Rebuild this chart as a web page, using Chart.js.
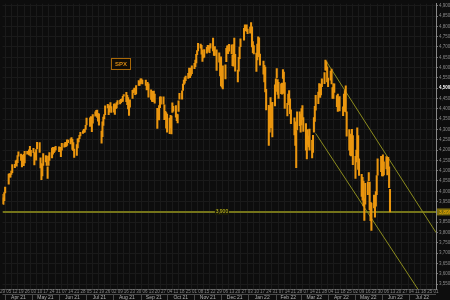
<!DOCTYPE html>
<html>
<head>
<meta charset="utf-8">
<script src="https://cdn.jsdelivr.net/npm/chart.js@4.4.1/dist/chart.umd.min.js"></script>
<style>
  html, body { margin: 0; padding: 0; background: #0d0d0d; }
  #wrap { width: 450px; height: 300px; position: relative; }
</style>
</head>
<body>
<div id="wrap"><canvas id="spx" width="450" height="300"></canvas></div>
<script>
// SPX daily [low, high], one array per month (trading days in order)
const mar21 = [[3940,3985],[3936,3968],[3955,3994]];
const apr21 = [[3992,4021],[4034,4084],[4068,4086],[4068,4083],[4082,4098],[4090,4129],[4114,4131],[4125,4148],[4122,4151],[4139,4173],[4170,4191],[4150,4180],[4118,4163],[4128,4175],[4124,4179],[4138,4194],[4180,4194],[4182,4193],[4176,4201],[4175,4218],[4170,4199]];
const may21 = [[4187,4209],[4128,4187],[4165,4187],[4151,4202],[4205,4238],[4188,4236],[4113,4162],[4056,4134],[4075,4131],[4126,4183],[4142,4173],[4125,4170],[4062,4119],[4126,4172],[4150,4188],[4162,4210],[4180,4213],[4187,4203],[4193,4213],[4201,4218]];
const jun21 = [[4192,4216],[4198,4213],[4168,4203],[4199,4233],[4214,4232],[4217,4237],[4218,4238],[4222,4250],[4236,4249],[4230,4255],[4240,4260],[4203,4252],[4197,4236],[4164,4205],[4174,4226],[4210,4255],[4240,4256],[4255,4272],[4269,4286],[4281,4293],[4285,4300],[4287,4302]];
const jul21 = [[4300,4320],[4322,4355],[4315,4356],[4340,4362],[4289,4346],[4331,4372],[4365,4386],[4367,4393],[4358,4394],[4340,4377],[4321,4376],[4233,4292],[4265,4337],[4320,4360],[4351,4372],[4372,4415],[4405,4422],[4372,4415],[4384,4415],[4404,4430],[4382,4411]];
const aug21 = [[4384,4423],[4373,4424],[4401,4418],[4404,4430],[4422,4440],[4424,4442],[4430,4446],[4436,4449],[4436,4461],[4462,4469],[4435,4480],[4420,4466],[4399,4455],[4368,4419],[4408,4444],[4450,4490],[4478,4492],[4486,4501],[4469,4498],[4472,4513],[4513,4537],[4513,4532]];
const sep21 = [[4522,4546],[4529,4545],[4521,4540],[4513,4540],[4492,4519],[4493,4529],[4457,4521],[4446,4492],[4436,4485],[4435,4482],[4448,4486],[4427,4472],[4305,4402],[4347,4394],[4346,4416],[4406,4458],[4423,4458],[4423,4458],[4347,4419],[4350,4388],[4306,4382]];
const oct21 = [[4287,4375],[4279,4355],[4307,4369],[4278,4365],[4382,4429],[4389,4412],[4360,4416],[4342,4375],[4332,4372],[4387,4439],[4447,4475],[4447,4487],[4489,4520],[4518,4540],[4524,4552],[4537,4559],[4548,4572],[4568,4598],[4551,4584],[4562,4598],[4570,4608]];
const nov21 = [[4595,4621],[4605,4636],[4623,4664],[4663,4683],[4681,4718],[4694,4714],[4665,4708],[4630,4685],[4647,4665],[4651,4688],[4670,4698],[4678,4708],[4688,4706],[4672,4707],[4694,4717],[4681,4743],[4659,4694],[4659,4702],[4586,4686],[4626,4672],[4560,4646]];
const dec21 = [[4511,4652],[4505,4595],[4496,4608],[4545,4613],[4629,4694],[4671,4706],[4667,4706],[4680,4713],[4666,4711],[4609,4660],[4607,4712],[4648,4743],[4583,4664],[4531,4588],[4583,4650],[4643,4699],[4701,4740],[4733,4791],[4783,4807],[4779,4804],[4776,4808],[4765,4787]];
const jan22 = [[4767,4797],[4780,4818],[4700,4798],[4672,4726],[4666,4707],[4582,4671],[4637,4714],[4712,4749],[4653,4744],[4612,4666],[4568,4632],[4531,4611],[4482,4603],[4395,4495],[4222,4417],[4287,4411],[4309,4454],[4309,4429],[4264,4432],[4414,4517]];
const feb22 = [[4484,4546],[4550,4595],[4470,4542],[4451,4529],[4474,4521],[4471,4525],[4547,4590],[4475,4578],[4402,4527],[4366,4427],[4430,4472],[4420,4489],[4377,4448],[4328,4395],[4273,4356],[4222,4337],[4114,4295],[4298,4385],[4318,4385]];
const mar22 = [[4287,4375],[4322,4401],[4348,4416],[4291,4358],[4199,4328],[4157,4276],[4227,4299],[4215,4268],[4200,4302],[4162,4247],[4188,4271],[4287,4358],[4339,4412],[4394,4465],[4425,4481],[4469,4522],[4455,4501],[4468,4520],[4507,4546],[4522,4576],[4588,4637],[4587,4628],[4530,4604]];
const apr22 = [[4507,4549],[4539,4583],[4521,4593],[4450,4503],[4450,4521],[4480,4521],[4411,4464],[4388,4471],[4395,4453],[4390,4460],[4367,4410],[4388,4471],[4452,4489],[4385,4512],[4267,4385],[4200,4299],[4175,4278],[4171,4240],[4188,4300],[4129,4270]];
const may22 = [[4062,4170],[4142,4200],[4168,4308],[4106,4270],[4077,4158],[3975,4082],[3957,4068],[3929,4050],[3859,3964],[3938,4039],[3984,4046],[4051,4091],[3911,4045],[3858,3946],[3810,3943],[3919,3982],[3875,3956],[3928,3999],[3984,4076],[4078,4158],[4095,4169]];
const jun22 = [[4075,4166],[4074,4177],[4080,4143],[4108,4168],[4080,4165],[4110,4165],[4017,4119],[3900,4010]];

const holidays = ['2021-04-02','2021-05-31','2021-07-05','2021-09-06','2021-11-25','2021-12-24','2022-01-17','2022-02-21','2022-04-15','2022-05-30'];
const monthLabels = ['Apr 21','May 21','Jun 21','Jul 21','Aug 21','Sep 21','Oct 21','Nov 21','Dec 21','Jan 22','Feb 22','Mar 22','Apr 22','May 22','Jun 22','Jul 22'];
const yTicks = [];
for (let v = 3550; v <= 4900; v += 50) yTicks.push(v);

const levelLine = 3900;
const levelLabel = '3,900';
const lastLabel = '3,899';
const upperTrend = [['2022-03-29', 4637], ['2022-08-01', 3800]];
const lowerTrend = [['2022-03-18', 4281], ['2022-07-20', 3470]];

const ORANGE = '#ea960f', OLIVE = '#74741a', TREND = '#8c8c1e', GRID = '#1a1a1a', TXT = '#8a8a8a';

const T0 = Date.UTC(2021, 2, 29);
const dayOf = (y, m, d) => Math.round((Date.UTC(y, m, d) - T0) / 864e5);
const dayOfStr = s => { const p = s.split('-').map(Number); return dayOf(p[0], p[1] - 1, p[2]); };
const X_MAX = dayOf(2022, 7, 1);

// trading days -> x positions
const months = [[2021,2,29,mar21],[2021,3,1,apr21],[2021,4,1,may21],[2021,5,1,jun21],[2021,6,1,jul21],[2021,7,1,aug21],[2021,8,1,sep21],[2021,9,1,oct21],[2021,10,1,nov21],[2021,11,1,dec21],[2022,0,1,jan22],[2022,1,1,feb22],[2022,2,1,mar22],[2022,3,1,apr22],[2022,4,1,may22],[2022,5,1,jun22]];
const bars = [];
months.forEach(([y, m, from, hl]) => {
  let i = 0;
  for (let d = from; d <= 31 && i < hl.length; d++) {
    const dt = new Date(Date.UTC(y, m, d));
    if (dt.getUTCMonth() !== m) break;
    const wd = dt.getUTCDay();
    const iso = dt.toISOString().slice(0, 10);
    if (wd === 0 || wd === 6 || holidays.includes(iso)) continue;
    bars.push({ x: dayOf(y, m, d), y: hl[i] });
    i++;
  }
});

const monthStarts = [], monthMids = [];
for (let k = 0; k <= 16; k++) {
  const y = 2021 + Math.floor((3 + k) / 12), m = (3 + k) % 12;
  monthStarts.push(dayOf(y, m, 1));
}
for (let k = 0; k < 16; k++) monthMids.push((monthStarts[k] + monthStarts[k + 1]) / 2);

const fmt = v => v.toLocaleString('en-US');
const isBold = c => !!(c && c.tick && c.tick.value === 4500);

const extras = {
  id: 'extras',
  beforeDraw(chart) {
    const c = chart.ctx;
    c.save();
    c.fillStyle = '#0d0d0d';
    c.fillRect(0, 0, chart.width, chart.height);
    c.restore();
  },
  afterDraw(chart) {
    const c = chart.ctx, xs = chart.scales.x, ys = chart.scales.y, a = chart.chartArea;
    c.save();
    // month separators in the bottom band
    c.strokeStyle = '#4a4a4a';
    c.lineWidth = 1;
    monthStarts.forEach(v => {
      const px = Math.round(xs.getPixelForValue(v)) + 0.5;
      if (px < a.left || px > a.right) return;
      c.beginPath(); c.moveTo(px, a.bottom + 5); c.lineTo(px, chart.height); c.stroke();
    });
    c.beginPath(); c.moveTo(a.left, a.bottom + 5.5); c.lineTo(a.right, a.bottom + 5.5); c.stroke();

    // level label in the middle of the line
    const ly = ys.getPixelForValue(levelLine);
    c.font = '5px "Liberation Sans", Arial, sans-serif';
    c.textAlign = 'center'; c.textBaseline = 'middle';
    const lx = xs.getPixelForValue(248);
    c.fillStyle = '#1a1a08';
    c.fillRect(lx - 7, ly - 3, 14, 6);
    c.fillStyle = '#c8c020';
    c.fillText(levelLabel, lx, ly);

    // value box on the right axis
    c.fillStyle = '#7a6a0c';
    c.fillRect(a.right + 1, ly - 3.5, chart.width - a.right - 1, 7);
    c.fillStyle = '#ffb400';
    c.textAlign = 'left';
    c.fillText(lastLabel, a.right + 3, ly + 0.5);

    // series tag
    c.strokeStyle = '#a86808';
    c.lineWidth = 1;
    c.fillStyle = '#120d05';
    c.fillRect(111.5, 58.5, 19, 11);
    c.strokeRect(111.5, 58.5, 19, 11);
    c.fillStyle = '#d88a12';
    c.font = 'bold 6px "Liberation Sans", Arial, sans-serif';
    c.textAlign = 'center';
    c.fillText('SPX', 121, 64.5);
    c.restore();
  }
};

new Chart(document.getElementById('spx'), {
  type: 'bar',
  data: {
    datasets: [
      { type: 'line', data: [{ x: 0, y: levelLine }, { x: X_MAX, y: levelLine }], borderColor: OLIVE, borderWidth: 2, pointRadius: 0, order: 3 },
      { type: 'line', data: upperTrend.map(p => ({ x: dayOfStr(p[0]), y: p[1] })), borderColor: TREND, borderWidth: 1, pointRadius: 0, order: 2 },
      { type: 'line', data: lowerTrend.map(p => ({ x: dayOfStr(p[0]), y: p[1] })), borderColor: TREND, borderWidth: 1, pointRadius: 0, order: 2 },
      { data: bars, backgroundColor: ORANGE, barThickness: 1.4, order: 1 }
    ]
  },
  options: {
    responsive: false,
    animation: false,
    layout: { padding: 0 },
    plugins: { legend: { display: false }, tooltip: { enabled: false } },
    scales: {
      x: {
        type: 'linear', min: 0, max: X_MAX, position: 'bottom', offset: false,
        grid: { color: GRID, drawTicks: false },
        border: { color: '#4a4a4a' },
        afterBuildTicks: ax => { const t = []; for (let v = 0; v <= X_MAX; v += 7) t.push({ value: v }); ax.ticks = t; },
        afterFit: s => { s.height = 5; },
        ticks: {
          autoSkip: false, maxRotation: 0, padding: 0, color: TXT,
          font: { size: 4.5, family: '"Liberation Sans", Arial' },
          callback: v => String(new Date(T0 + v * 864e5).getUTCDate()).padStart(2, '0')
        }
      },
      x2: {
        type: 'linear', min: 0, max: X_MAX, position: 'bottom', offset: false,
        grid: { display: false, drawTicks: false },
        border: { display: false },
        afterBuildTicks: ax => { ax.ticks = monthMids.map(v => ({ value: v })); },
        afterFit: s => { s.height = 6; },
        ticks: {
          autoSkip: false, maxRotation: 0, padding: 1, color: '#b0b0b0',
          font: { size: 5, family: '"Liberation Sans", Arial' },
          callback: (v, i) => monthLabels[i]
        }
      },
      y: {
        position: 'right', min: 3526, max: 4910,
        grid: { color: GRID, tickLength: 2, tickColor: '#777' },
        border: { color: '#888' },
        afterBuildTicks: ax => { ax.ticks = yTicks.map(v => ({ value: v })); },
        afterFit: s => { s.width = 14; },
        ticks: {
          padding: 1,
          color: c => isBold(c) ? '#ffffff' : TXT,
          font: c => ({ size: 4.5, weight: isBold(c) ? 'bold' : 'normal', family: '"Liberation Sans", Arial' }),
          callback: v => fmt(v)
        }
      }
    }
  },
  plugins: [extras]
});
</script>
</body>
</html>
